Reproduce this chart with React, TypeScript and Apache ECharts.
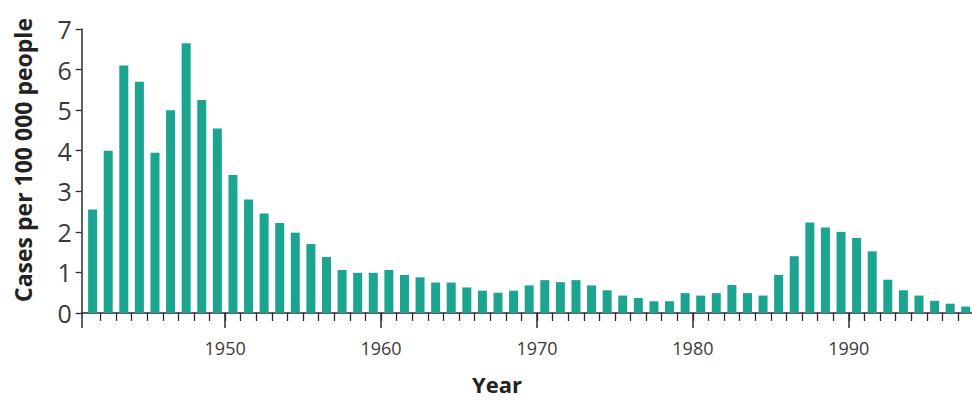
import React, { useEffect, useRef } from "react";
import * as echarts from "echarts";

const years: number[] = [];
for (let y = 1941; y <= 1997; y++) years.push(y);

const cases: number[] = [
  2.55, 4.0, 6.1, 5.7, 3.95, 5.0, 6.65, 5.25, 4.55, 3.4,
  2.8, 2.45, 2.22, 1.98, 1.7, 1.38, 1.06, 0.99, 0.99, 1.06,
  0.94, 0.88, 0.75, 0.75, 0.63, 0.55, 0.5, 0.55, 0.68, 0.81,
  0.76, 0.81, 0.68, 0.56, 0.43, 0.37, 0.29, 0.29, 0.49, 0.43,
  0.49, 0.69, 0.49, 0.43, 0.94, 1.4, 2.23, 2.11, 2.0, 1.85,
  1.52, 0.82, 0.56, 0.43, 0.3, 0.23, 0.16,
];

const decadeLabels: number[] = [1950, 1960, 1970, 1980, 1990];
const yTicks: number[] = [0, 1, 2, 3, 4, 5, 6, 7];

const X_MIN = 1940.8;
const X_MAX = 1997.9;

export default function App() {
  const ref = useRef<HTMLDivElement>(null);
  useEffect(() => {
    document.body.style.margin = "0";
    if (!ref.current) return;
    const chart = echarts.init(ref.current, null, { renderer: "svg" });
    const axisColor = "#2b2b2b";
    const textColor = "#3a3a3a";
    chart.setOption({
      animation: false,
      backgroundColor: "#ffffff",
      grid: { left: 81.7, right: 0, top: 29, bottom: 88 },
      xAxis: [
        {
          type: "value",
          position: "bottom",
          min: X_MIN,
          max: X_MAX,
          axisLine: { show: true, onZero: false, lineStyle: { color: axisColor, width: 1.5 } },
          axisTick: {
            show: true,
            length: 8,
            customValues: years.slice(1),
            lineStyle: { color: axisColor, width: 1.3 },
          },
          axisLabel: { show: false },
          splitLine: { show: false },
        },
        {
          type: "value",
          position: "bottom",
          offset: 0,
          min: X_MIN,
          max: X_MAX,
          axisLine: { show: false, onZero: false },
          axisTick: {
            show: true,
            length: 15,
            customValues: [X_MIN, ...decadeLabels],
            lineStyle: { color: axisColor, width: 1.5 },
          },
          axisLabel: {
            show: true,
            customValues: decadeLabels,
            formatter: (v: number) => String(Math.round(v)),
            margin: 26,
            fontFamily: "Open Sans",
            fontSize: 18,
            color: textColor,
          },
          splitLine: { show: false },
        },
      ],
      yAxis: {
        type: "value",
        min: 0,
        max: 7,
        interval: 1,
        axisLine: { show: true, lineStyle: { color: axisColor, width: 1.5 } },
        axisTick: { show: true, length: 6, lineStyle: { color: axisColor, width: 1.3 } },
        axisLabel: {
          margin: 10,
          fontFamily: "Open Sans",
          fontSize: 25,
          color: textColor,
          formatter: (v: number) => (yTicks.includes(v) ? String(v) : ""),
        },
        splitLine: { show: false },
      },
      series: [
        {
          type: "bar",
          xAxisIndex: 0,
          barWidth: 9,
          itemStyle: { color: "#1ba591" },
          data: years.map((y, i) => [y + 0.5, cases[i]]),
        },
      ],
      graphic: [
        {
          type: "text",
          x: 23,
          y: 160,
          rotation: Math.PI / 2,
          style: {
            text: "Cases per 100 000 people",
            font: "bold 23px 'Open Sans'",
            fill: "#222222",
            align: "center",
            verticalAlign: "middle",
            textAlign: "center",
            textVerticalAlign: "middle",
          },
        },
        {
          type: "text",
          x: 497,
          y: 384,
          style: {
            text: "Year",
            font: "bold 22px 'Open Sans'",
            fill: "#222222",
            align: "center",
            verticalAlign: "middle",
            textAlign: "center",
            textVerticalAlign: "middle",
          },
        },
      ],
    });
    return () => chart.dispose();
  }, []);
  return <div ref={ref} style={{ width: 972, height: 401 }} />;
}
